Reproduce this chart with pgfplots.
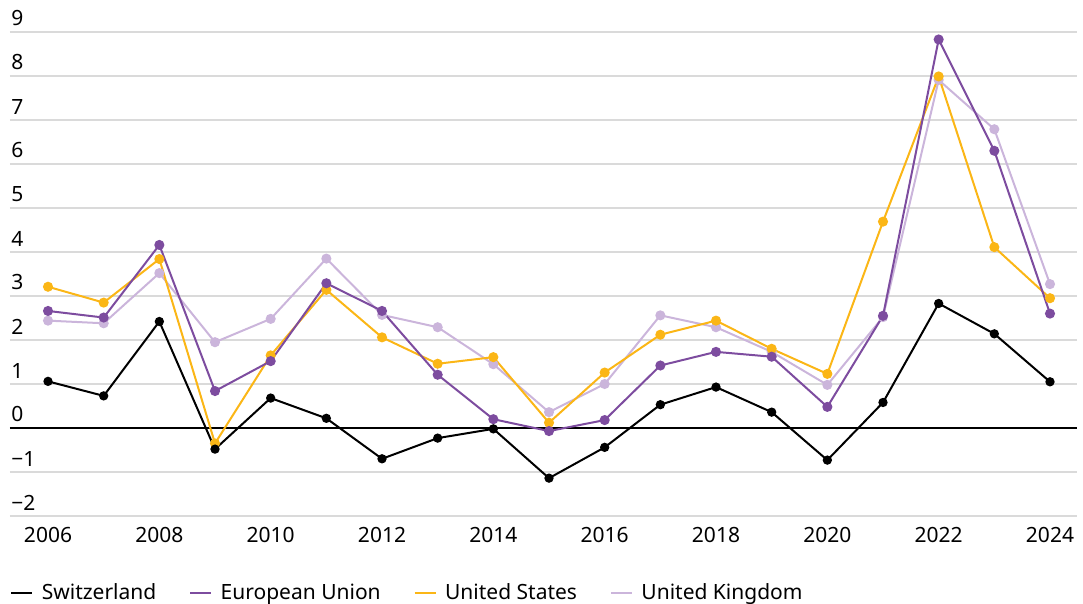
\documentclass[border=0pt]{standalone}
\usepackage{pgfplots}
\pgfplotsset{compat=1.18}
\usepackage{fontspec}
\setmainfont{Noto Sans}
\definecolor{chblack}{HTML}{000000}
\definecolor{eupurple}{HTML}{7D4C9F}
\definecolor{usyellow}{HTML}{FBB616}
\definecolor{uklilac}{HTML}{CBB5DB}
\definecolor{gridgray}{HTML}{DADADA}
\begin{document}
\begin{tikzpicture}[font=\fontsize{10.5}{12}\selectfont]
\begin{axis}[
  name=ax,
  scale only axis,
  width=533.5pt, height=242pt,
  xmin=2005.317, xmax=2024.485,
  ymin=-2, ymax=9,
  clip=false,
  axis line style={draw=none},
  major tick length=0pt,
  xtick={2006,2008,...,2024},
  xticklabels={2006,2008,2010,2012,2014,2016,2018,2020,2022,2024},
  ytick={-2,-1,0,1,2,3,4,5,6,7,8,9},
  yticklabels={−2,−1,0,1,2,3,4,5,6,7,8,9},
  ymajorgrids,
  grid style={gridgray, line width=0.65pt},
  extra y ticks={0},
  extra y tick labels={},
  extra y tick style={grid style={black, line width=0.75pt}},
  yticklabel style={anchor=south west, inner sep=0pt, xshift=0.5pt, yshift=2.7pt},
  xticklabel style={anchor=north, inner sep=0pt, yshift=-5.5pt},
  legend columns=4,
  legend cell align=left,
  legend style={draw=none, fill=none, at={(0,0)}, anchor=west, yshift=-38.5pt, xshift=0pt,
    inner sep=0pt,
    /tikz/every odd column/.append style={column sep=2.2pt},
    /tikz/every even column/.append style={column sep=14.5pt}},
  legend image code/.code={\draw[#1, line width=1pt] (0pt,0pt) -- (10.5pt,0pt);},
  every axis plot/.append style={line width=1pt, mark=*, mark size=2pt},
]
\addlegendimage{chblack}
\addlegendentry{Switzerland}
\addlegendimage{eupurple}
\addlegendentry{European Union}
\addlegendimage{usyellow}
\addlegendentry{United States}
\addlegendimage{uklilac}
\addlegendentry{United Kingdom}

% United Kingdom
\addplot[uklilac, mark options={fill=uklilac, draw=uklilac}, forget plot] coordinates {
(2006,2.44)(2007,2.38)(2008,3.52)(2009,1.95)(2010,2.48)(2011,3.85)(2012,2.57)(2013,2.29)(2014,1.45)(2015,0.36)(2016,1.00)(2017,2.56)(2018,2.29)(2019,1.73)(2020,0.98)(2021,2.52)(2022,7.91)(2023,6.79)(2024,3.27)};
% United States
\addplot[usyellow, mark options={fill=usyellow, draw=usyellow}, forget plot] coordinates {
(2006,3.21)(2007,2.85)(2008,3.84)(2009,-0.35)(2010,1.65)(2011,3.14)(2012,2.06)(2013,1.46)(2014,1.61)(2015,0.12)(2016,1.26)(2017,2.12)(2018,2.44)(2019,1.80)(2020,1.23)(2021,4.69)(2022,7.99)(2023,4.11)(2024,2.95)};
% European Union
\addplot[eupurple, mark options={fill=eupurple, draw=eupurple}, forget plot] coordinates {
(2006,2.66)(2007,2.51)(2008,4.16)(2009,0.84)(2010,1.52)(2011,3.29)(2012,2.66)(2013,1.21)(2014,0.20)(2015,-0.07)(2016,0.18)(2017,1.42)(2018,1.73)(2019,1.62)(2020,0.48)(2021,2.55)(2022,8.83)(2023,6.30)(2024,2.60)};
% Switzerland
\addplot[chblack, mark options={fill=chblack, draw=chblack}, mark size=1.8pt, forget plot] coordinates {
(2006,1.06)(2007,0.73)(2008,2.42)(2009,-0.48)(2010,0.68)(2011,0.22)(2012,-0.70)(2013,-0.23)(2014,-0.02)(2015,-1.14)(2016,-0.44)(2017,0.53)(2018,0.93)(2019,0.36)(2020,-0.73)(2021,0.58)(2022,2.83)(2023,2.14)(2024,1.05)};
\end{axis}
\pgfresetboundingbox
\path ([xshift=-5pt,yshift=-44pt]ax.south west) rectangle ([xshift=3pt,yshift=16pt]ax.north east);
\end{tikzpicture}
\end{document}
